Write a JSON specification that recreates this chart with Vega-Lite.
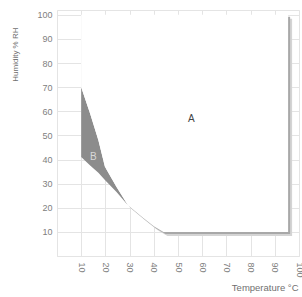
{
  "$schema": "https://vega.github.io/schema/vega-lite/v6.json",
  "autosize": {"type": "none"},
  "width": 242,
  "height": 246,
  "padding": {"left": 57, "top": 10, "right": 3, "bottom": 41},
  "background": "white",
  "config": {
    "view": {"stroke": "#e4e4e4"},
    "font": "Liberation Sans",
    "axis": {
      "grid": true, "gridColor": "#e4e4e4", "gridWidth": 1,
      "domain": false, "ticks": false,
      "labelColor": "#808080", "labelFontSize": 9, "labelOverlap": false, "labelFlush": false,
      "titleColor": "#707070", "titleFontSize": 9.5, "titleFontWeight": "normal"
    }
  },
  "datasets": {
    "regionA": [
      {"temp": 10, "hi": 100, "lo": 70},
      {"temp": 13.7, "hi": 100, "lo": 59},
      {"temp": 17.1, "hi": 100, "lo": 48},
      {"temp": 19.8, "hi": 100, "lo": 37},
      {"temp": 24.6, "hi": 100, "lo": 28.6},
      {"temp": 29.3, "hi": 100, "lo": 21},
      {"temp": 35.4, "hi": 100, "lo": 16},
      {"temp": 40, "hi": 100, "lo": 12.3},
      {"temp": 44, "hi": 100, "lo": 10},
      {"temp": 95.5, "hi": 100, "lo": 10}
    ],
    "regionB": [
      {"temp": 10, "hi": 70, "lo": 41},
      {"temp": 13.7, "hi": 59, "lo": 37.5},
      {"temp": 17.1, "hi": 48, "lo": 34.5},
      {"temp": 19.8, "hi": 37, "lo": 31.5},
      {"temp": 24.6, "hi": 28.6, "lo": 26.5},
      {"temp": 29.3, "hi": 21, "lo": 21}
    ],
    "labels": [
      {"temp": 55.5, "hi": 57, "label": "A"},
      {"temp": 15, "hi": 41, "label": "B"}
    ]
  },
  "encoding": {
    "x": {"field": "temp", "type": "quantitative", "scale": {"domain": [0, 100], "nice": false},
      "axis": {"values": [0,10,20,30,40,50,60,70,80,90,100], "labelExpr": "datum.value == 0 ? '' : datum.label",
        "labelAngle": 90, "labelPadding": 6, "title": "Temperature °C",
        "titleX": 241, "titleY": 31, "titleAlign": "right", "titleBaseline": "middle"}},
    "y": {"field": "hi", "type": "quantitative", "scale": {"domain": [0, 102], "nice": false},
      "axis": {"values": [0,10,20,30,40,50,60,70,80,90,100], "labelExpr": "datum.value == 0 ? '' : datum.label",
        "labelPadding": 5, "title": "Humidity % RH", "titleFontSize": 8,
        "titleX": -42, "titleY": 17, "titleAlign": "right", "titleAngle": -90, "titleBaseline": "middle"}}
  },
  "layer": [
    {
      "data": {"name": "regionA"},
      "mark": {"type": "area", "color": "#d4d4d4", "xOffset": 4, "yOffset": 4, "y2Offset": 4},
      "encoding": {"y2": {"field": "lo"}}
    },
    {
      "data": {"name": "regionA"},
      "mark": {"type": "area", "color": "#a8a8a8", "xOffset": 2, "yOffset": 2, "y2Offset": 2},
      "encoding": {"y2": {"field": "lo"}}
    },
    {
      "data": {"name": "regionB"},
      "mark": {"type": "area", "color": "#8c8c8c"},
      "encoding": {"y2": {"field": "lo"}}
    },
    {
      "data": {"name": "regionA"},
      "mark": {"type": "area", "color": "#ffffff", "opacity": 1},
      "encoding": {"y2": {"field": "lo"}}
    },
    {
      "data": {"name": "labels"},
      "mark": {"type": "text", "fontSize": 10, "font": "Liberation Sans"},
      "encoding": {
        "text": {"field": "label"},
        "color": {"condition": {"test": "datum.label == 'B'", "value": "#d8d8d8"}, "value": "#444"}
      }
    }
  ]
}
